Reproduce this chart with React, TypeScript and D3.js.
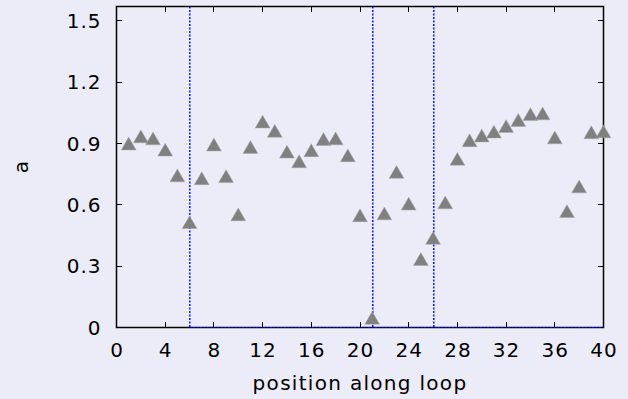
import { FC, useEffect, useRef } from 'react';
import * as d3 from 'd3';

// positions along the loop and the value of a at each one
const positions = [
  1, 2, 3, 4, 5, 6, 7, 8, 9, 10, 11, 12, 13, 14, 15, 16, 17, 18, 19, 20,
  21, 22, 23, 24, 25, 26, 27, 28, 29, 30, 31, 32, 33, 34, 35, 36, 37, 38, 39, 40,
];
const aValues = [
  0.9, 0.935, 0.925, 0.87, 0.744, 0.515, 0.73, 0.895, 0.74, 0.553,
  0.883, 1.007, 0.962, 0.86, 0.813, 0.867, 0.922, 0.925, 0.842, 0.549,
  0.047, 0.558, 0.761, 0.606, 0.335, 0.438, 0.612, 0.825, 0.916, 0.939,
  0.958, 0.985, 1.015, 1.044, 1.047, 0.93, 0.569, 0.69, 0.955, 0.959,
];
// dotted markers at these positions
const markerLines = [6, 21, 26];
const xTicks = [0, 4, 8, 12, 16, 20, 24, 28, 32, 36, 40];
const yTicks = [0, 0.3, 0.6, 0.9, 1.2, 1.5];

const W = 628;
const H = 399;

const Chart: FC = () => {
  const svgRef = useRef<SVGSVGElement>(null);

  useEffect(() => {
    if (!svgRef.current) return;
    const svg = d3.select(svgRef.current);
    svg.selectAll('*').remove();

    const margin = { top: 6.5, right: 24.5, bottom: 71.5, left: 116.5 };
    const innerW = W - margin.left - margin.right;
    const innerH = H - margin.top - margin.bottom;
    const font = "'DejaVu Sans', Verdana, sans-serif";

    const x = d3.scaleLinear().domain([0, 40]).range([0, innerW]);
    const y = d3.scaleLinear().domain([0, 1.57]).range([innerH, 0]);
    const px = (v: number) => Math.round(x(v)); // snap to pixel for crisp lines

    svg.append('rect').attr('width', W).attr('height', H).attr('fill', '#ececf8');

    const g = svg.append('g').attr('transform', `translate(${margin.left},${margin.top})`);

    // ticks (inward, mirrored on top and right)
    const tickLen = 5.5;
    const ticks = g.append('g').attr('stroke', '#000').attr('stroke-width', 1);
    xTicks.forEach((t) => {
      ticks.append('line').attr('x1', px(t)).attr('x2', px(t)).attr('y1', innerH).attr('y2', innerH - tickLen);
      ticks.append('line').attr('x1', px(t)).attr('x2', px(t)).attr('y1', 0).attr('y2', tickLen);
    });
    yTicks.forEach((t) => {
      const yy = Math.round(y(t));
      ticks.append('line').attr('x1', 0).attr('x2', tickLen).attr('y1', yy).attr('y2', yy);
      ticks.append('line').attr('x1', innerW).attr('x2', innerW - tickLen).attr('y1', yy).attr('y2', yy);
    });

    // tick labels
    g.selectAll('.xl')
      .data(xTicks)
      .enter()
      .append('text')
      .attr('x', (d) => x(d) + 0.5)
      .attr('y', innerH + 29.5)
      .attr('text-anchor', 'middle')
      .style('font-family', font)
      .style('font-size', '20px')
      .style('letter-spacing', '1px')
      .attr('fill', '#000')
      .text((d) => String(d));

    g.selectAll('.yl')
      .data(yTicks)
      .enter()
      .append('text')
      .attr('x', -15)
      .attr('y', (d) => y(d))
      .attr('dy', '0.36em')
      .attr('text-anchor', 'end')
      .style('font-family', font)
      .style('font-size', '20px')
      .style('letter-spacing', '1px')
      .attr('fill', '#000')
      .text((d) => (d === 0 ? '0' : d.toFixed(1)));

    // dotted vertical markers
    g.selectAll('.vline')
      .data(markerLines)
      .enter()
      .append('line')
      .attr('x1', (d) => px(d) + 0.3)
      .attr('x2', (d) => px(d) + 0.3)
      .attr('y1', 0)
      .attr('y2', innerH)
      .attr('stroke', '#0000ff')
      .attr('stroke-width', 1.4)
      .attr('stroke-dasharray', '2,1.5');

    // frame
    g.append('rect')
      .attr('width', innerW)
      .attr('height', innerH)
      .attr('fill', 'none')
      .attr('stroke', '#000')
      .attr('stroke-width', 1.5);

    g.append('line')
      .attr('x1', px(markerLines[0]))
      .attr('x2', innerW)
      .attr('y1', innerH)
      .attr('y2', innerH)
      .attr('stroke', '#0000ff')
      .attr('stroke-width', 1)
      .attr('stroke-dasharray', '2,1.5');

    // triangles, shifted so the bounding box is centred on the value
    const triSize = 95;
    const triH = Math.sqrt(triSize * Math.sqrt(3));
    const tri = d3.symbol().type(d3.symbolTriangle).size(triSize);
    g.selectAll('.pt')
      .data(positions.map((p, i) => ({ p, v: aValues[i] })))
      .enter()
      .append('path')
      .attr('d', tri)
      .attr('transform', (d) => `translate(${x(d.p)},${y(d.v) + triH / 6})`)
      .attr('fill', '#808080')
      .attr('stroke', '#a8a8a8')
      .attr('stroke-width', 0.5);

    // axis titles
    svg
      .append('text')
      .attr('x', margin.left + innerW / 2)
      .attr('y', 390)
      .attr('text-anchor', 'middle')
      .style('font-family', font)
      .style('font-size', '20px')
      .style('letter-spacing', '1.3px')
      .text('position along loop');

    svg
      .append('text')
      .attr('transform', 'translate(28,167) rotate(-90)')
      .attr('text-anchor', 'middle')
      .style('font-family', font)
      .style('font-size', '20px')
      .text('a');
  }, []);

  return <svg ref={svgRef} width={W} height={H} style={{ display: 'block' }} />;
};

export default function App() {
  return (
    <div style={{ position: 'fixed', left: 0, top: 0 }}>
      <Chart />
    </div>
  );
}
